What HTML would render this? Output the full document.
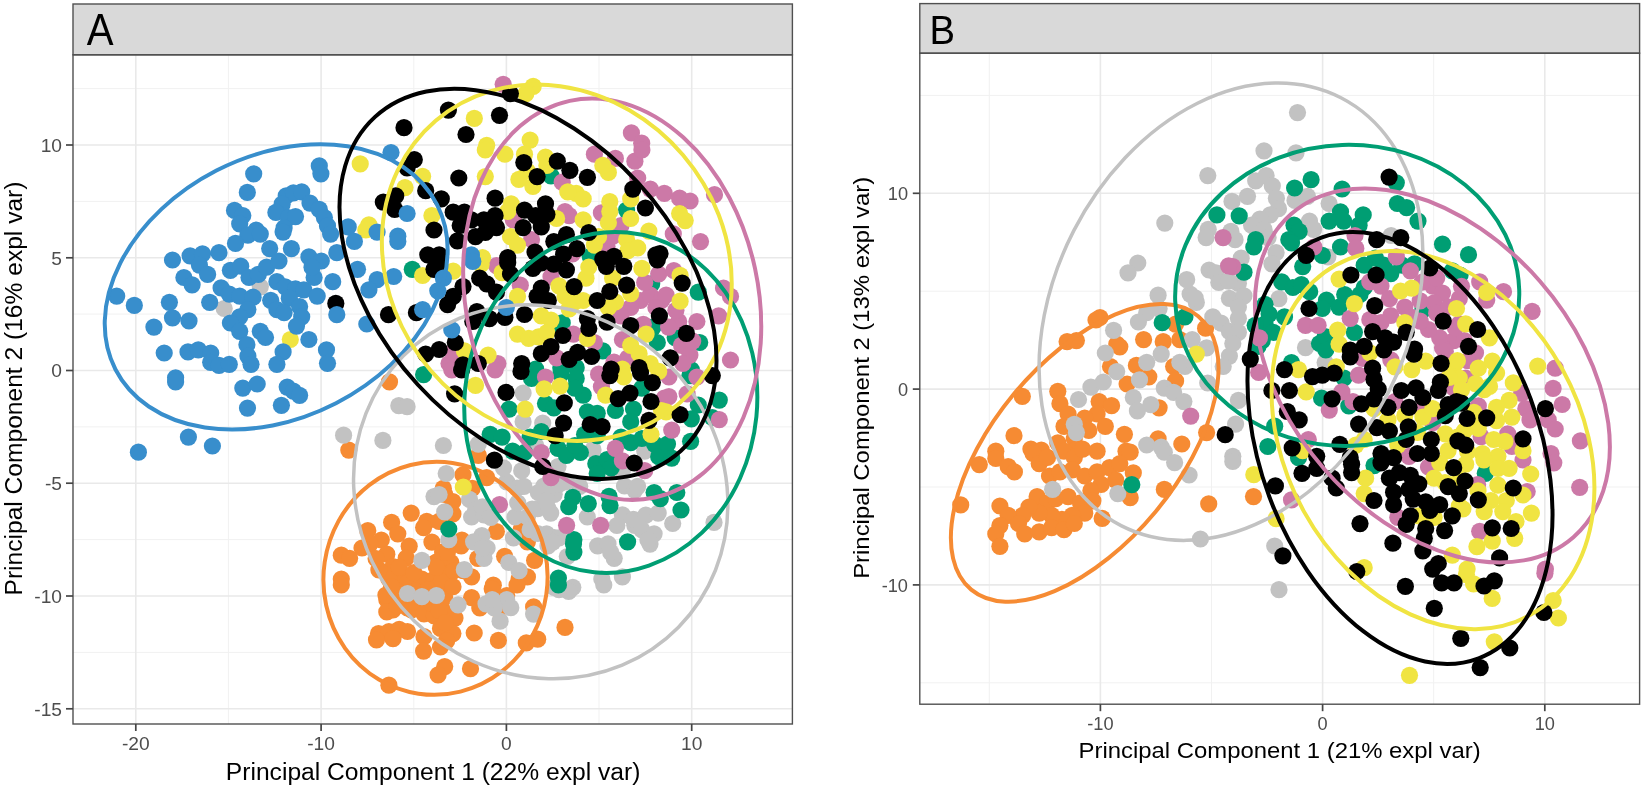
<!DOCTYPE html>
<html lang="en"><head><meta charset="utf-8"><title>PCA sample plots</title>
<style>html,body{margin:0;padding:0;background:#fff}body{width:1645px;height:787px;overflow:hidden}svg{display:block;filter:blur(0.5px)}text{font-family:"Liberation Sans",Arial,Helvetica,sans-serif}.tk{fill:#4d4d4d}.ti{fill:#000}.el{fill:none;stroke-width:4}.gM{stroke:#e9e9e9;stroke-width:1.6}.gm{stroke:#f1f1f1;stroke-width:1}.ax{stroke:#454545;stroke-width:1.7}
.d-blue{fill:#388ECC}.e-blue{stroke:#388ECC}
.d-orange{fill:#F68B33}.e-orange{stroke:#F68B33}
.d-grey{fill:#C2C2C2}.e-grey{stroke:#C2C2C2}
.d-green{fill:#009E73}.e-green{stroke:#009E73}
.d-pink{fill:#CC79A7}.e-pink{stroke:#CC79A7}
.d-yellow{fill:#F0E442}.e-yellow{stroke:#F0E442}
.d-black{fill:#000000}.e-black{stroke:#000000}
.e-grey{stroke-width:3.5}
</style></head><body>
<svg width="1645" height="787" viewBox="0 0 1645 787">
<rect width="1645" height="787" fill="#fff"/>
<g id="panelA">
<clipPath id="clipA"><rect x="73.0" y="54.8" width="719.4" height="669.2"/></clipPath>
<line class="gm" x1="228.4" x2="228.4" y1="54.8" y2="724.0"/><line class="gm" x1="413.8" x2="413.8" y1="54.8" y2="724.0"/><line class="gm" x1="599.0" x2="599.0" y1="54.8" y2="724.0"/><line class="gm" x1="73.0" x2="792.4" y1="652.4" y2="652.4"/><line class="gm" x1="73.0" x2="792.4" y1="539.6" y2="539.6"/><line class="gm" x1="73.0" x2="792.4" y1="426.9" y2="426.9"/><line class="gm" x1="73.0" x2="792.4" y1="314.1" y2="314.1"/><line class="gm" x1="73.0" x2="792.4" y1="201.4" y2="201.4"/><line class="gm" x1="73.0" x2="792.4" y1="88.6" y2="88.6"/><line class="gM" x1="135.8" x2="135.8" y1="54.8" y2="724.0"/><line class="gM" x1="321.1" x2="321.1" y1="54.8" y2="724.0"/><line class="gM" x1="506.4" x2="506.4" y1="54.8" y2="724.0"/><line class="gM" x1="691.7" x2="691.7" y1="54.8" y2="724.0"/><line class="gM" x1="73.0" x2="792.4" y1="708.8" y2="708.8"/><line class="gM" x1="73.0" x2="792.4" y1="596.0" y2="596.0"/><line class="gM" x1="73.0" x2="792.4" y1="483.2" y2="483.2"/><line class="gM" x1="73.0" x2="792.4" y1="370.5" y2="370.5"/><line class="gM" x1="73.0" x2="792.4" y1="257.8" y2="257.8"/><line class="gM" x1="73.0" x2="792.4" y1="145.0" y2="145.0"/>
<g clip-path="url(#clipA)">
<g class="d-orange"><circle cx="389.5" cy="381.9" r="8.6"/><circle cx="348.8" cy="450.1" r="8.6"/><circle cx="411.2" cy="513.1" r="8.6"/><circle cx="391.6" cy="522.4" r="8.6"/><circle cx="426.7" cy="521.4" r="8.6"/><circle cx="367.8" cy="530.7" r="8.6"/><circle cx="397.8" cy="533.8" r="8.6"/><circle cx="381.3" cy="540.0" r="8.6"/><circle cx="423.6" cy="527.6" r="8.6"/><circle cx="409.2" cy="546.2" r="8.6"/><circle cx="431.9" cy="542.1" r="8.6"/><circle cx="369.9" cy="544.1" r="8.6"/><circle cx="444.7" cy="494.3" r="8.6"/><circle cx="452.9" cy="501.5" r="8.6"/><circle cx="452.9" cy="513.9" r="8.6"/><circle cx="362.0" cy="548.0" r="8.6"/><circle cx="442.6" cy="552.1" r="8.6"/><circle cx="435.4" cy="562.5" r="8.6"/><circle cx="450.9" cy="562.5" r="8.6"/><circle cx="341.3" cy="555.2" r="8.6"/><circle cx="349.6" cy="558.3" r="8.6"/><circle cx="341.3" cy="579.0" r="8.6"/><circle cx="386.8" cy="554.2" r="8.6"/><circle cx="393.0" cy="566.6" r="8.6"/><circle cx="401.3" cy="574.9" r="8.6"/><circle cx="407.5" cy="583.1" r="8.6"/><circle cx="388.9" cy="579.0" r="8.6"/><circle cx="397.1" cy="591.4" r="8.6"/><circle cx="386.8" cy="599.7" r="8.6"/><circle cx="393.0" cy="610.0" r="8.6"/><circle cx="407.5" cy="607.9" r="8.6"/><circle cx="419.9" cy="599.7" r="8.6"/><circle cx="421.9" cy="579.0" r="8.6"/><circle cx="434.3" cy="579.0" r="8.6"/><circle cx="444.7" cy="574.9" r="8.6"/><circle cx="448.8" cy="587.3" r="8.6"/><circle cx="440.5" cy="599.7" r="8.6"/><circle cx="428.1" cy="612.1" r="8.6"/><circle cx="444.7" cy="612.1" r="8.6"/><circle cx="461.2" cy="545.9" r="8.6"/><circle cx="463.3" cy="570.7" r="8.6"/><circle cx="471.6" cy="576.9" r="8.6"/><circle cx="477.8" cy="558.3" r="8.6"/><circle cx="496.4" cy="531.5" r="8.6"/><circle cx="521.2" cy="529.4" r="8.6"/><circle cx="527.4" cy="541.8" r="8.6"/><circle cx="504.6" cy="556.3" r="8.6"/><circle cx="534.6" cy="560.4" r="8.6"/><circle cx="519.1" cy="579.0" r="8.6"/><circle cx="527.4" cy="576.9" r="8.6"/><circle cx="493.3" cy="585.2" r="8.6"/><circle cx="506.7" cy="595.5" r="8.6"/><circle cx="471.6" cy="597.6" r="8.6"/><circle cx="479.8" cy="607.9" r="8.6"/><circle cx="533.6" cy="606.9" r="8.6"/><circle cx="498.4" cy="610.0" r="8.6"/><circle cx="341.3" cy="585.0" r="8.6"/><circle cx="386.8" cy="611.9" r="8.6"/><circle cx="397.1" cy="605.7" r="8.6"/><circle cx="411.6" cy="609.8" r="8.6"/><circle cx="424.0" cy="613.9" r="8.6"/><circle cx="434.3" cy="616.0" r="8.6"/><circle cx="455.0" cy="618.1" r="8.6"/><circle cx="432.3" cy="603.6" r="8.6"/><circle cx="444.7" cy="597.4" r="8.6"/><circle cx="415.7" cy="591.2" r="8.6"/><circle cx="432.3" cy="589.1" r="8.6"/><circle cx="378.5" cy="633.6" r="8.6"/><circle cx="388.9" cy="631.5" r="8.6"/><circle cx="399.2" cy="629.4" r="8.6"/><circle cx="407.5" cy="631.5" r="8.6"/><circle cx="376.5" cy="639.8" r="8.6"/><circle cx="393.0" cy="638.7" r="8.6"/><circle cx="424.0" cy="636.7" r="8.6"/><circle cx="440.5" cy="628.4" r="8.6"/><circle cx="452.9" cy="633.6" r="8.6"/><circle cx="446.7" cy="640.8" r="8.6"/><circle cx="440.5" cy="647.0" r="8.6"/><circle cx="423.6" cy="651.1" r="8.6"/><circle cx="474.2" cy="633.0" r="8.6"/><circle cx="498.4" cy="640.4" r="8.6"/><circle cx="526.3" cy="642.9" r="8.6"/><circle cx="537.7" cy="639.2" r="8.6"/><circle cx="565.0" cy="627.4" r="8.6"/><circle cx="444.7" cy="666.6" r="8.6"/><circle cx="438.1" cy="674.9" r="8.6"/><circle cx="470.5" cy="668.7" r="8.6"/><circle cx="388.9" cy="685.2" r="8.6"/><circle cx="492.2" cy="589.1" r="8.6"/><circle cx="517.0" cy="585.0" r="8.6"/><circle cx="443.3" cy="488.3" r="8.6"/><circle cx="472.2" cy="488.3" r="8.6"/><circle cx="461.9" cy="540.0" r="8.6"/><circle cx="439.1" cy="521.4" r="8.6"/><circle cx="439.1" cy="560.7" r="8.6"/><circle cx="441.2" cy="581.3" r="8.6"/><circle cx="439.1" cy="610.3" r="8.6"/><circle cx="445.3" cy="622.7" r="8.6"/><circle cx="447.4" cy="552.4" r="8.6"/><circle cx="453.6" cy="571.0" r="8.6"/><circle cx="478.3" cy="455.3" r="8.6"/><circle cx="463.0" cy="474.9" r="8.6"/><circle cx="486.7" cy="477.7" r="8.6"/><circle cx="406.2" cy="558.0" r="8.6"/><circle cx="399.2" cy="567.1" r="8.6"/><circle cx="378.9" cy="569.9" r="8.6"/><circle cx="376.1" cy="558.7" r="8.6"/><circle cx="413.9" cy="572.7" r="8.6"/><circle cx="436.3" cy="567.1" r="8.6"/><circle cx="453.0" cy="586.7" r="8.6"/><circle cx="427.9" cy="589.5" r="8.6"/><circle cx="391.5" cy="586.7" r="8.6"/><circle cx="385.9" cy="595.1" r="8.6"/></g>
<g class="d-grey"><circle cx="260.3" cy="286.8" r="8.6"/><circle cx="224.2" cy="308.5" r="8.6"/><circle cx="398.8" cy="405.7" r="8.6"/><circle cx="407.1" cy="406.7" r="8.6"/><circle cx="343.6" cy="435.2" r="8.6"/><circle cx="382.9" cy="440.4" r="8.6"/><circle cx="434.0" cy="496.6" r="8.6"/><circle cx="444.7" cy="511.8" r="8.6"/><circle cx="469.5" cy="499.4" r="8.6"/><circle cx="475.7" cy="509.8" r="8.6"/><circle cx="471.6" cy="517.0" r="8.6"/><circle cx="484.0" cy="514.9" r="8.6"/><circle cx="506.7" cy="481.9" r="8.6"/><circle cx="517.0" cy="488.1" r="8.6"/><circle cx="543.9" cy="486.0" r="8.6"/><circle cx="554.2" cy="494.3" r="8.6"/><circle cx="537.7" cy="508.7" r="8.6"/><circle cx="527.4" cy="517.0" r="8.6"/><circle cx="548.0" cy="508.7" r="8.6"/><circle cx="515.0" cy="517.0" r="8.6"/><circle cx="481.9" cy="535.6" r="8.6"/><circle cx="473.6" cy="541.8" r="8.6"/><circle cx="487.1" cy="548.0" r="8.6"/><circle cx="484.0" cy="558.3" r="8.6"/><circle cx="448.8" cy="539.7" r="8.6"/><circle cx="421.9" cy="560.4" r="8.6"/><circle cx="464.3" cy="569.7" r="8.6"/><circle cx="508.8" cy="562.5" r="8.6"/><circle cx="519.1" cy="570.7" r="8.6"/><circle cx="407.5" cy="593.5" r="8.6"/><circle cx="421.9" cy="596.6" r="8.6"/><circle cx="436.4" cy="595.5" r="8.6"/><circle cx="458.1" cy="604.8" r="8.6"/><circle cx="486.0" cy="603.8" r="8.6"/><circle cx="506.7" cy="599.7" r="8.6"/><circle cx="494.3" cy="607.9" r="8.6"/><circle cx="533.6" cy="614.1" r="8.6"/><circle cx="537.7" cy="533.5" r="8.6"/><circle cx="554.2" cy="537.7" r="8.6"/><circle cx="548.0" cy="545.9" r="8.6"/><circle cx="554.2" cy="587.3" r="8.6"/><circle cx="572.8" cy="587.3" r="8.6"/><circle cx="568.7" cy="591.4" r="8.6"/><circle cx="597.6" cy="545.9" r="8.6"/><circle cx="608.0" cy="543.9" r="8.6"/><circle cx="614.2" cy="558.3" r="8.6"/><circle cx="601.8" cy="579.0" r="8.6"/><circle cx="622.4" cy="576.9" r="8.6"/><circle cx="624.5" cy="486.0" r="8.6"/><circle cx="634.8" cy="490.1" r="8.6"/><circle cx="587.3" cy="517.0" r="8.6"/><circle cx="622.4" cy="514.9" r="8.6"/><circle cx="634.8" cy="525.3" r="8.6"/><circle cx="566.6" cy="481.9" r="8.6"/><circle cx="492.2" cy="599.5" r="8.6"/><circle cx="510.8" cy="607.7" r="8.6"/><circle cx="500.1" cy="621.2" r="8.6"/><circle cx="603.8" cy="585.0" r="8.6"/><circle cx="523.9" cy="486.3" r="8.6"/><circle cx="538.3" cy="492.5" r="8.6"/><circle cx="550.7" cy="488.3" r="8.6"/><circle cx="546.6" cy="500.7" r="8.6"/><circle cx="559.0" cy="484.2" r="8.6"/><circle cx="579.7" cy="486.3" r="8.6"/><circle cx="637.6" cy="486.3" r="8.6"/><circle cx="482.5" cy="506.9" r="8.6"/><circle cx="490.8" cy="517.3" r="8.6"/><circle cx="517.7" cy="502.8" r="8.6"/><circle cx="532.1" cy="509.0" r="8.6"/><circle cx="550.7" cy="513.1" r="8.6"/><circle cx="439.1" cy="494.5" r="8.6"/><circle cx="633.4" cy="519.3" r="8.6"/><circle cx="645.8" cy="515.2" r="8.6"/><circle cx="658.2" cy="513.1" r="8.6"/><circle cx="672.7" cy="523.5" r="8.6"/><circle cx="641.7" cy="529.7" r="8.6"/><circle cx="654.1" cy="533.8" r="8.6"/><circle cx="616.9" cy="525.5" r="8.6"/><circle cx="714.0" cy="522.4" r="8.6"/><circle cx="530.1" cy="529.7" r="8.6"/><circle cx="546.6" cy="533.8" r="8.6"/><circle cx="559.0" cy="537.9" r="8.6"/><circle cx="513.5" cy="537.9" r="8.6"/><circle cx="650.0" cy="544.1" r="8.6"/><circle cx="552.8" cy="542.1" r="8.6"/><circle cx="610.7" cy="552.4" r="8.6"/><circle cx="559.0" cy="589.6" r="8.6"/><circle cx="647.9" cy="540.0" r="8.6"/><circle cx="567.3" cy="556.5" r="8.6"/><circle cx="482.5" cy="548.3" r="8.6"/><circle cx="523.1" cy="393.1" r="8.6"/><circle cx="523.1" cy="421.7" r="8.6"/><circle cx="542.7" cy="423.1" r="8.6"/><circle cx="443.4" cy="445.5" r="8.6"/><circle cx="478.3" cy="444.1" r="8.6"/><circle cx="446.2" cy="473.5" r="8.6"/><circle cx="503.5" cy="467.9" r="8.6"/><circle cx="521.7" cy="470.7" r="8.6"/><circle cx="558.0" cy="466.5" r="8.6"/><circle cx="593.0" cy="449.7" r="8.6"/><circle cx="644.7" cy="451.1" r="8.6"/><circle cx="622.4" cy="470.7" r="8.6"/><circle cx="535.7" cy="445.5" r="8.6"/></g>
<g class="d-green"><circle cx="412.3" cy="269.3" r="8.6"/><circle cx="423.6" cy="374.7" r="8.6"/><circle cx="448.8" cy="529.0" r="8.6"/><circle cx="572.8" cy="497.4" r="8.6"/><circle cx="588.3" cy="503.6" r="8.6"/><circle cx="609.0" cy="496.3" r="8.6"/><circle cx="610.0" cy="505.6" r="8.6"/><circle cx="568.7" cy="506.7" r="8.6"/><circle cx="573.9" cy="539.7" r="8.6"/><circle cx="573.9" cy="552.1" r="8.6"/><circle cx="627.6" cy="541.8" r="8.6"/><circle cx="558.4" cy="578.0" r="8.6"/><circle cx="558.4" cy="585.0" r="8.6"/><circle cx="654.1" cy="492.5" r="8.6"/><circle cx="660.3" cy="498.7" r="8.6"/><circle cx="676.8" cy="492.5" r="8.6"/><circle cx="681.0" cy="510.0" r="8.6"/><circle cx="573.5" cy="544.1" r="8.6"/><circle cx="551.0" cy="175.9" r="8.6"/><circle cx="626.6" cy="210.1" r="8.6"/><circle cx="590.2" cy="256.3" r="8.6"/><circle cx="651.7" cy="283.8" r="8.6"/><circle cx="562.2" cy="322.9" r="8.6"/><circle cx="602.8" cy="350.9" r="8.6"/><circle cx="657.3" cy="342.5" r="8.6"/><circle cx="653.1" cy="327.1" r="8.6"/><circle cx="560.8" cy="367.7" r="8.6"/><circle cx="576.2" cy="367.7" r="8.6"/><circle cx="535.7" cy="369.1" r="8.6"/><circle cx="556.6" cy="328.5" r="8.6"/><circle cx="698.3" cy="292.2" r="8.6"/><circle cx="699.7" cy="342.5" r="8.6"/><circle cx="675.2" cy="337.6" r="8.6"/><circle cx="691.3" cy="369.8" r="8.6"/><circle cx="531.5" cy="378.4" r="8.6"/><circle cx="560.8" cy="374.2" r="8.6"/><circle cx="576.2" cy="378.4" r="8.6"/><circle cx="583.2" cy="395.2" r="8.6"/><circle cx="574.8" cy="388.2" r="8.6"/><circle cx="509.1" cy="409.1" r="8.6"/><circle cx="545.5" cy="403.6" r="8.6"/><circle cx="553.8" cy="407.8" r="8.6"/><circle cx="587.4" cy="411.9" r="8.6"/><circle cx="597.2" cy="413.3" r="8.6"/><circle cx="615.4" cy="410.5" r="8.6"/><circle cx="633.5" cy="409.1" r="8.6"/><circle cx="630.7" cy="421.7" r="8.6"/><circle cx="641.9" cy="388.2" r="8.6"/><circle cx="490.2" cy="434.3" r="8.6"/><circle cx="502.1" cy="437.1" r="8.6"/><circle cx="512.6" cy="451.1" r="8.6"/><circle cx="524.5" cy="452.5" r="8.6"/><circle cx="530.1" cy="437.1" r="8.6"/><circle cx="541.3" cy="431.5" r="8.6"/><circle cx="558.0" cy="448.3" r="8.6"/><circle cx="566.4" cy="455.3" r="8.6"/><circle cx="580.4" cy="452.5" r="8.6"/><circle cx="584.6" cy="434.3" r="8.6"/><circle cx="597.2" cy="435.7" r="8.6"/><circle cx="630.7" cy="442.7" r="8.6"/><circle cx="641.9" cy="438.5" r="8.6"/><circle cx="654.5" cy="444.1" r="8.6"/><circle cx="658.7" cy="456.7" r="8.6"/><circle cx="595.8" cy="463.7" r="8.6"/><circle cx="607.0" cy="459.5" r="8.6"/><circle cx="611.2" cy="467.9" r="8.6"/><circle cx="597.2" cy="473.5" r="8.6"/><circle cx="574.8" cy="445.5" r="8.6"/><circle cx="621.0" cy="437.1" r="8.6"/><circle cx="689.9" cy="375.6" r="8.6"/><circle cx="719.3" cy="400.1" r="8.6"/><circle cx="698.3" cy="405.0" r="8.6"/><circle cx="691.3" cy="418.9" r="8.6"/><circle cx="712.3" cy="417.5" r="8.6"/><circle cx="690.6" cy="441.3" r="8.6"/><circle cx="667.5" cy="444.1" r="8.6"/><circle cx="671.7" cy="458.1" r="8.6"/></g>
<g class="d-pink"><circle cx="499.5" cy="504.6" r="8.6"/><circle cx="566.6" cy="525.3" r="8.6"/><circle cx="600.7" cy="525.3" r="8.6"/><circle cx="503.2" cy="84.3" r="8.6"/><circle cx="631.4" cy="132.9" r="8.6"/><circle cx="641.7" cy="143.2" r="8.6"/><circle cx="594.4" cy="154.2" r="8.6"/><circle cx="634.9" cy="161.2" r="8.6"/><circle cx="615.4" cy="158.4" r="8.6"/><circle cx="650.3" cy="189.1" r="8.6"/><circle cx="664.3" cy="193.3" r="8.6"/><circle cx="637.7" cy="178.0" r="8.6"/><circle cx="562.2" cy="182.2" r="8.6"/><circle cx="565.0" cy="211.5" r="8.6"/><circle cx="569.2" cy="215.7" r="8.6"/><circle cx="513.3" cy="219.9" r="8.6"/><circle cx="531.5" cy="239.5" r="8.6"/><circle cx="601.4" cy="212.9" r="8.6"/><circle cx="641.9" cy="150.0" r="8.6"/><circle cx="607.0" cy="246.5" r="8.6"/><circle cx="621.0" cy="225.5" r="8.6"/><circle cx="679.6" cy="198.2" r="8.6"/><circle cx="690.1" cy="201.0" r="8.6"/><circle cx="714.5" cy="194.7" r="8.6"/><circle cx="673.3" cy="233.9" r="8.6"/><circle cx="700.5" cy="241.6" r="8.6"/><circle cx="496.5" cy="265.6" r="8.6"/><circle cx="520.3" cy="285.2" r="8.6"/><circle cx="551.0" cy="276.8" r="8.6"/><circle cx="640.5" cy="300.5" r="8.6"/><circle cx="650.3" cy="295.0" r="8.6"/><circle cx="658.7" cy="274.0" r="8.6"/><circle cx="661.5" cy="300.5" r="8.6"/><circle cx="630.7" cy="307.5" r="8.6"/><circle cx="621.0" cy="315.9" r="8.6"/><circle cx="643.3" cy="324.3" r="8.6"/><circle cx="573.4" cy="334.1" r="8.6"/><circle cx="594.4" cy="342.5" r="8.6"/><circle cx="622.4" cy="339.7" r="8.6"/><circle cx="627.9" cy="357.9" r="8.6"/><circle cx="614.0" cy="362.1" r="8.6"/><circle cx="556.6" cy="357.9" r="8.6"/><circle cx="449.0" cy="363.5" r="8.6"/><circle cx="497.9" cy="363.5" r="8.6"/><circle cx="453.2" cy="352.3" r="8.6"/><circle cx="655.9" cy="307.5" r="8.6"/><circle cx="644.7" cy="282.4" r="8.6"/><circle cx="673.8" cy="270.5" r="8.6"/><circle cx="723.5" cy="288.0" r="8.6"/><circle cx="730.5" cy="296.4" r="8.6"/><circle cx="718.6" cy="315.9" r="8.6"/><circle cx="696.9" cy="321.5" r="8.6"/><circle cx="678.7" cy="321.5" r="8.6"/><circle cx="675.9" cy="310.3" r="8.6"/><circle cx="666.1" cy="295.0" r="8.6"/><circle cx="730.5" cy="360.0" r="8.6"/><circle cx="681.5" cy="345.3" r="8.6"/><circle cx="689.9" cy="355.1" r="8.6"/><circle cx="682.9" cy="363.5" r="8.6"/><circle cx="692.7" cy="341.1" r="8.6"/><circle cx="451.8" cy="370.0" r="8.6"/><circle cx="495.1" cy="370.0" r="8.6"/><circle cx="545.5" cy="377.0" r="8.6"/><circle cx="598.6" cy="374.2" r="8.6"/><circle cx="601.4" cy="386.8" r="8.6"/><circle cx="615.4" cy="448.3" r="8.6"/><circle cx="622.4" cy="460.9" r="8.6"/><circle cx="541.3" cy="452.5" r="8.6"/><circle cx="664.3" cy="398.0" r="8.6"/><circle cx="644.7" cy="470.7" r="8.6"/><circle cx="551.0" cy="477.7" r="8.6"/><circle cx="668.9" cy="396.6" r="8.6"/><circle cx="671.7" cy="430.1" r="8.6"/><circle cx="696.9" cy="377.0" r="8.6"/><circle cx="687.1" cy="393.8" r="8.6"/><circle cx="719.3" cy="419.6" r="8.6"/><circle cx="668.9" cy="377.0" r="8.6"/><circle cx="612.8" cy="236.2" r="8.6"/><circle cx="668.6" cy="327.1" r="8.6"/><circle cx="572.4" cy="253.8" r="8.6"/></g>
<g class="d-yellow"><circle cx="360.2" cy="163.9" r="8.6"/><circle cx="368.9" cy="224.8" r="8.6"/><circle cx="405.0" cy="187.6" r="8.6"/><circle cx="422.6" cy="176.3" r="8.6"/><circle cx="431.9" cy="215.5" r="8.6"/><circle cx="290.3" cy="339.5" r="8.6"/><circle cx="422.6" cy="275.5" r="8.6"/><circle cx="365.8" cy="230.0" r="8.6"/><circle cx="463.3" cy="487.0" r="8.6"/><circle cx="533.2" cy="86.4" r="8.6"/><circle cx="525.9" cy="93.6" r="8.6"/><circle cx="474.3" cy="118.4" r="8.6"/><circle cx="486.7" cy="145.3" r="8.6"/><circle cx="530.1" cy="140.1" r="8.6"/><circle cx="485.3" cy="150.0" r="8.6"/><circle cx="504.9" cy="154.2" r="8.6"/><circle cx="485.3" cy="176.6" r="8.6"/><circle cx="518.9" cy="179.4" r="8.6"/><circle cx="532.9" cy="186.4" r="8.6"/><circle cx="527.3" cy="171.0" r="8.6"/><circle cx="546.9" cy="165.4" r="8.6"/><circle cx="511.2" cy="203.8" r="8.6"/><circle cx="507.7" cy="211.5" r="8.6"/><circle cx="576.2" cy="193.3" r="8.6"/><circle cx="583.2" cy="198.9" r="8.6"/><circle cx="567.8" cy="191.9" r="8.6"/><circle cx="608.4" cy="172.4" r="8.6"/><circle cx="602.8" cy="165.4" r="8.6"/><circle cx="609.8" cy="201.7" r="8.6"/><circle cx="609.8" cy="211.5" r="8.6"/><circle cx="583.2" cy="219.9" r="8.6"/><circle cx="608.4" cy="222.7" r="8.6"/><circle cx="630.7" cy="198.9" r="8.6"/><circle cx="630.7" cy="218.5" r="8.6"/><circle cx="648.9" cy="231.1" r="8.6"/><circle cx="626.6" cy="239.5" r="8.6"/><circle cx="627.9" cy="250.7" r="8.6"/><circle cx="637.7" cy="247.9" r="8.6"/><circle cx="510.5" cy="236.7" r="8.6"/><circle cx="517.5" cy="245.1" r="8.6"/><circle cx="556.6" cy="218.5" r="8.6"/><circle cx="594.4" cy="245.1" r="8.6"/><circle cx="482.5" cy="257.7" r="8.6"/><circle cx="598.6" cy="236.7" r="8.6"/><circle cx="524.5" cy="154.2" r="8.6"/><circle cx="545.5" cy="157.0" r="8.6"/><circle cx="679.6" cy="213.6" r="8.6"/><circle cx="685.2" cy="220.6" r="8.6"/><circle cx="453.2" cy="271.2" r="8.6"/><circle cx="481.1" cy="264.2" r="8.6"/><circle cx="517.5" cy="296.4" r="8.6"/><circle cx="502.1" cy="272.6" r="8.6"/><circle cx="565.0" cy="296.4" r="8.6"/><circle cx="574.8" cy="301.9" r="8.6"/><circle cx="583.2" cy="300.5" r="8.6"/><circle cx="569.2" cy="308.9" r="8.6"/><circle cx="586.0" cy="278.2" r="8.6"/><circle cx="588.8" cy="267.0" r="8.6"/><circle cx="612.6" cy="278.2" r="8.6"/><circle cx="615.4" cy="301.9" r="8.6"/><circle cx="608.4" cy="307.5" r="8.6"/><circle cx="641.9" cy="268.4" r="8.6"/><circle cx="630.7" cy="293.6" r="8.6"/><circle cx="541.3" cy="315.9" r="8.6"/><circle cx="551.0" cy="320.1" r="8.6"/><circle cx="517.5" cy="334.1" r="8.6"/><circle cx="528.7" cy="338.3" r="8.6"/><circle cx="538.5" cy="336.9" r="8.6"/><circle cx="546.9" cy="332.7" r="8.6"/><circle cx="587.4" cy="338.3" r="8.6"/><circle cx="646.1" cy="334.1" r="8.6"/><circle cx="630.7" cy="345.3" r="8.6"/><circle cx="639.1" cy="353.7" r="8.6"/><circle cx="650.3" cy="363.5" r="8.6"/><circle cx="488.1" cy="355.1" r="8.6"/><circle cx="464.4" cy="350.9" r="8.6"/><circle cx="622.4" cy="369.1" r="8.6"/><circle cx="680.1" cy="275.4" r="8.6"/><circle cx="680.1" cy="301.2" r="8.6"/><circle cx="475.5" cy="385.4" r="8.6"/><circle cx="544.1" cy="388.9" r="8.6"/><circle cx="560.1" cy="386.1" r="8.6"/><circle cx="525.2" cy="409.1" r="8.6"/><circle cx="605.6" cy="395.2" r="8.6"/><circle cx="623.8" cy="377.0" r="8.6"/><circle cx="651.0" cy="434.3" r="8.6"/><circle cx="658.7" cy="371.4" r="8.6"/><circle cx="661.5" cy="410.5" r="8.6"/><circle cx="666.1" cy="411.9" r="8.6"/><circle cx="559.0" cy="285.8" r="8.6"/></g>
<g class="d-black"><circle cx="404.0" cy="127.7" r="8.6"/><circle cx="414.3" cy="159.7" r="8.6"/><circle cx="407.1" cy="168.0" r="8.6"/><circle cx="425.7" cy="190.7" r="8.6"/><circle cx="395.7" cy="195.9" r="8.6"/><circle cx="383.3" cy="202.1" r="8.6"/><circle cx="394.7" cy="209.3" r="8.6"/><circle cx="434.0" cy="230.0" r="8.6"/><circle cx="335.8" cy="303.4" r="8.6"/><circle cx="388.5" cy="314.7" r="8.6"/><circle cx="416.4" cy="312.7" r="8.6"/><circle cx="427.8" cy="254.8" r="8.6"/><circle cx="434.0" cy="269.3" r="8.6"/><circle cx="425.7" cy="354.0" r="8.6"/><circle cx="510.4" cy="93.6" r="8.6"/><circle cx="448.4" cy="110.1" r="8.6"/><circle cx="499.5" cy="115.3" r="8.6"/><circle cx="466.0" cy="134.5" r="8.6"/><circle cx="458.8" cy="178.0" r="8.6"/><circle cx="523.8" cy="162.6" r="8.6"/><circle cx="557.3" cy="161.2" r="8.6"/><circle cx="569.9" cy="170.3" r="8.6"/><circle cx="587.4" cy="177.3" r="8.6"/><circle cx="537.1" cy="176.6" r="8.6"/><circle cx="441.3" cy="198.9" r="8.6"/><circle cx="495.1" cy="198.2" r="8.6"/><circle cx="545.5" cy="203.8" r="8.6"/><circle cx="524.5" cy="210.1" r="8.6"/><circle cx="535.7" cy="215.7" r="8.6"/><circle cx="546.9" cy="214.3" r="8.6"/><circle cx="495.1" cy="215.7" r="8.6"/><circle cx="483.9" cy="219.9" r="8.6"/><circle cx="523.1" cy="227.6" r="8.6"/><circle cx="541.3" cy="226.9" r="8.6"/><circle cx="496.5" cy="227.6" r="8.6"/><circle cx="453.2" cy="212.2" r="8.6"/><circle cx="464.4" cy="212.2" r="8.6"/><circle cx="471.4" cy="219.9" r="8.6"/><circle cx="460.2" cy="225.5" r="8.6"/><circle cx="475.5" cy="236.7" r="8.6"/><circle cx="457.4" cy="240.9" r="8.6"/><circle cx="566.4" cy="234.6" r="8.6"/><circle cx="588.8" cy="232.5" r="8.6"/><circle cx="553.8" cy="241.6" r="8.6"/><circle cx="576.9" cy="248.6" r="8.6"/><circle cx="535.0" cy="252.1" r="8.6"/><circle cx="563.6" cy="254.2" r="8.6"/><circle cx="507.7" cy="257.7" r="8.6"/><circle cx="632.8" cy="189.1" r="8.6"/><circle cx="645.4" cy="208.0" r="8.6"/><circle cx="614.0" cy="256.3" r="8.6"/><circle cx="655.9" cy="254.9" r="8.6"/><circle cx="439.2" cy="254.9" r="8.6"/><circle cx="602.8" cy="259.1" r="8.6"/><circle cx="485.3" cy="232.5" r="8.6"/><circle cx="660.0" cy="253.5" r="8.6"/><circle cx="439.2" cy="262.8" r="8.6"/><circle cx="463.0" cy="286.6" r="8.6"/><circle cx="453.2" cy="296.4" r="8.6"/><circle cx="447.6" cy="304.7" r="8.6"/><circle cx="479.7" cy="278.2" r="8.6"/><circle cx="486.7" cy="283.8" r="8.6"/><circle cx="496.5" cy="292.2" r="8.6"/><circle cx="476.9" cy="311.7" r="8.6"/><circle cx="472.8" cy="321.5" r="8.6"/><circle cx="489.5" cy="318.7" r="8.6"/><circle cx="507.7" cy="262.8" r="8.6"/><circle cx="510.5" cy="274.0" r="8.6"/><circle cx="532.9" cy="268.4" r="8.6"/><circle cx="541.3" cy="262.8" r="8.6"/><circle cx="553.8" cy="264.2" r="8.6"/><circle cx="566.4" cy="269.8" r="8.6"/><circle cx="541.3" cy="288.0" r="8.6"/><circle cx="537.1" cy="296.4" r="8.6"/><circle cx="548.3" cy="300.5" r="8.6"/><circle cx="574.1" cy="286.6" r="8.6"/><circle cx="597.2" cy="300.5" r="8.6"/><circle cx="609.8" cy="291.5" r="8.6"/><circle cx="626.6" cy="285.2" r="8.6"/><circle cx="606.3" cy="266.3" r="8.6"/><circle cx="623.8" cy="266.3" r="8.6"/><circle cx="657.3" cy="260.0" r="8.6"/><circle cx="504.9" cy="317.3" r="8.6"/><circle cx="524.5" cy="314.5" r="8.6"/><circle cx="587.4" cy="318.7" r="8.6"/><circle cx="588.8" cy="328.5" r="8.6"/><circle cx="607.0" cy="322.2" r="8.6"/><circle cx="630.7" cy="325.7" r="8.6"/><circle cx="659.4" cy="315.9" r="8.6"/><circle cx="562.9" cy="335.5" r="8.6"/><circle cx="551.0" cy="346.7" r="8.6"/><circle cx="541.3" cy="353.7" r="8.6"/><circle cx="577.6" cy="352.3" r="8.6"/><circle cx="569.2" cy="359.3" r="8.6"/><circle cx="591.6" cy="356.5" r="8.6"/><circle cx="455.3" cy="342.5" r="8.6"/><circle cx="439.2" cy="349.5" r="8.6"/><circle cx="521.7" cy="363.5" r="8.6"/><circle cx="463.0" cy="364.9" r="8.6"/><circle cx="478.3" cy="363.5" r="8.6"/><circle cx="639.1" cy="367.7" r="8.6"/><circle cx="611.2" cy="369.1" r="8.6"/><circle cx="682.2" cy="283.1" r="8.6"/><circle cx="686.4" cy="333.4" r="8.6"/><circle cx="670.3" cy="357.9" r="8.6"/><circle cx="454.6" cy="393.8" r="8.6"/><circle cx="506.0" cy="392.4" r="8.6"/><circle cx="521.0" cy="371.4" r="8.6"/><circle cx="564.3" cy="402.9" r="8.6"/><circle cx="563.6" cy="423.1" r="8.6"/><circle cx="555.2" cy="435.7" r="8.6"/><circle cx="590.2" cy="424.5" r="8.6"/><circle cx="602.1" cy="426.6" r="8.6"/><circle cx="609.8" cy="375.6" r="8.6"/><circle cx="618.2" cy="398.7" r="8.6"/><circle cx="630.0" cy="393.1" r="8.6"/><circle cx="640.5" cy="372.8" r="8.6"/><circle cx="652.4" cy="382.6" r="8.6"/><circle cx="651.0" cy="401.5" r="8.6"/><circle cx="648.9" cy="420.3" r="8.6"/><circle cx="494.4" cy="460.2" r="8.6"/><circle cx="542.7" cy="466.5" r="8.6"/><circle cx="634.2" cy="463.0" r="8.6"/><circle cx="461.6" cy="370.0" r="8.6"/><circle cx="712.3" cy="375.6" r="8.6"/><circle cx="680.1" cy="414.7" r="8.6"/></g>
<g class="d-blue"><circle cx="253.7" cy="173.8" r="8.6"/><circle cx="247.3" cy="192.4" r="8.6"/><circle cx="319.3" cy="165.9" r="8.6"/><circle cx="320.9" cy="173.8" r="8.6"/><circle cx="391.0" cy="152.5" r="8.6"/><circle cx="234.5" cy="210.4" r="8.6"/><circle cx="242.8" cy="215.5" r="8.6"/><circle cx="239.7" cy="223.8" r="8.6"/><circle cx="256.2" cy="230.0" r="8.6"/><circle cx="247.9" cy="235.2" r="8.6"/><circle cx="286.2" cy="195.9" r="8.6"/><circle cx="293.4" cy="192.8" r="8.6"/><circle cx="301.7" cy="191.8" r="8.6"/><circle cx="282.1" cy="204.2" r="8.6"/><circle cx="275.9" cy="212.4" r="8.6"/><circle cx="288.3" cy="217.6" r="8.6"/><circle cx="295.5" cy="216.6" r="8.6"/><circle cx="284.1" cy="227.9" r="8.6"/><circle cx="310.0" cy="203.1" r="8.6"/><circle cx="319.3" cy="209.3" r="8.6"/><circle cx="324.4" cy="217.6" r="8.6"/><circle cx="327.5" cy="225.9" r="8.6"/><circle cx="348.2" cy="226.9" r="8.6"/><circle cx="330.6" cy="234.1" r="8.6"/><circle cx="407.1" cy="213.5" r="8.6"/><circle cx="377.1" cy="232.1" r="8.6"/><circle cx="397.8" cy="236.2" r="8.6"/><circle cx="260.3" cy="234.1" r="8.6"/><circle cx="235.5" cy="243.4" r="8.6"/><circle cx="283.1" cy="232.1" r="8.6"/><circle cx="291.4" cy="248.6" r="8.6"/><circle cx="269.7" cy="248.6" r="8.6"/><circle cx="354.4" cy="241.4" r="8.6"/><circle cx="397.8" cy="241.4" r="8.6"/><circle cx="336.8" cy="252.7" r="8.6"/><circle cx="308.9" cy="256.9" r="8.6"/><circle cx="321.3" cy="261.0" r="8.6"/><circle cx="172.5" cy="260.0" r="8.6"/><circle cx="190.1" cy="255.8" r="8.6"/><circle cx="202.5" cy="253.8" r="8.6"/><circle cx="219.0" cy="252.7" r="8.6"/><circle cx="199.4" cy="265.1" r="8.6"/><circle cx="207.6" cy="274.4" r="8.6"/><circle cx="183.9" cy="277.5" r="8.6"/><circle cx="192.1" cy="284.8" r="8.6"/><circle cx="230.4" cy="270.3" r="8.6"/><circle cx="240.7" cy="266.2" r="8.6"/><circle cx="249.0" cy="277.5" r="8.6"/><circle cx="258.3" cy="274.4" r="8.6"/><circle cx="266.6" cy="267.2" r="8.6"/><circle cx="279.0" cy="261.0" r="8.6"/><circle cx="221.1" cy="287.9" r="8.6"/><circle cx="229.3" cy="294.1" r="8.6"/><circle cx="239.7" cy="296.1" r="8.6"/><circle cx="253.1" cy="297.2" r="8.6"/><circle cx="276.9" cy="281.7" r="8.6"/><circle cx="285.2" cy="286.8" r="8.6"/><circle cx="295.5" cy="288.9" r="8.6"/><circle cx="303.8" cy="289.9" r="8.6"/><circle cx="314.1" cy="277.5" r="8.6"/><circle cx="312.0" cy="267.2" r="8.6"/><circle cx="317.2" cy="296.1" r="8.6"/><circle cx="289.3" cy="298.2" r="8.6"/><circle cx="270.7" cy="300.3" r="8.6"/><circle cx="276.9" cy="309.6" r="8.6"/><circle cx="284.1" cy="312.7" r="8.6"/><circle cx="299.6" cy="306.5" r="8.6"/><circle cx="301.7" cy="316.8" r="8.6"/><circle cx="296.5" cy="326.1" r="8.6"/><circle cx="332.7" cy="281.7" r="8.6"/><circle cx="357.5" cy="269.3" r="8.6"/><circle cx="377.1" cy="279.6" r="8.6"/><circle cx="393.7" cy="276.5" r="8.6"/><circle cx="368.9" cy="289.9" r="8.6"/><circle cx="116.7" cy="296.1" r="8.6"/><circle cx="134.3" cy="305.4" r="8.6"/><circle cx="169.4" cy="302.3" r="8.6"/><circle cx="172.5" cy="317.8" r="8.6"/><circle cx="189.0" cy="320.9" r="8.6"/><circle cx="153.9" cy="327.1" r="8.6"/><circle cx="209.7" cy="302.3" r="8.6"/><circle cx="247.9" cy="309.6" r="8.6"/><circle cx="239.7" cy="316.8" r="8.6"/><circle cx="230.4" cy="323.0" r="8.6"/><circle cx="239.7" cy="331.3" r="8.6"/><circle cx="260.3" cy="331.3" r="8.6"/><circle cx="265.5" cy="337.5" r="8.6"/><circle cx="246.9" cy="344.7" r="8.6"/><circle cx="247.9" cy="356.1" r="8.6"/><circle cx="251.0" cy="364.3" r="8.6"/><circle cx="336.8" cy="314.7" r="8.6"/><circle cx="366.8" cy="324.0" r="8.6"/><circle cx="422.6" cy="309.6" r="8.6"/><circle cx="308.9" cy="339.5" r="8.6"/><circle cx="326.5" cy="349.9" r="8.6"/><circle cx="327.5" cy="363.3" r="8.6"/><circle cx="283.1" cy="351.9" r="8.6"/><circle cx="276.9" cy="364.3" r="8.6"/><circle cx="164.2" cy="353.0" r="8.6"/><circle cx="188.0" cy="351.9" r="8.6"/><circle cx="198.3" cy="349.9" r="8.6"/><circle cx="210.7" cy="353.0" r="8.6"/><circle cx="210.7" cy="362.3" r="8.6"/><circle cx="219.0" cy="365.4" r="8.6"/><circle cx="229.3" cy="364.3" r="8.6"/><circle cx="175.6" cy="377.8" r="8.6"/><circle cx="242.8" cy="388.1" r="8.6"/><circle cx="257.2" cy="384.0" r="8.6"/><circle cx="287.2" cy="387.1" r="8.6"/><circle cx="293.4" cy="391.2" r="8.6"/><circle cx="175.6" cy="381.9" r="8.6"/><circle cx="299.6" cy="395.3" r="8.6"/><circle cx="247.5" cy="408.1" r="8.6"/><circle cx="281.4" cy="405.3" r="8.6"/><circle cx="188.4" cy="437.1" r="8.6"/><circle cx="212.4" cy="446.0" r="8.6"/><circle cx="138.4" cy="452.2" r="8.6"/><circle cx="471.4" cy="254.9" r="8.6"/><circle cx="443.4" cy="278.2" r="8.6"/><circle cx="437.8" cy="290.8" r="8.6"/><circle cx="506.3" cy="307.5" r="8.6"/><circle cx="451.8" cy="329.9" r="8.6"/><circle cx="472.8" cy="261.4" r="8.6"/></g>
<ellipse class="el e-blue" cx="276.2" cy="286.9" rx="180.7" ry="130.8" transform="rotate(-27.2 276.2 286.9)"/>
<ellipse class="el e-orange" cx="435.5" cy="578.3" rx="116.6" ry="112.0" transform="rotate(-81.6 435.5 578.3)"/>
<ellipse class="el e-grey" cx="540.7" cy="491.8" rx="193.2" ry="180.7" transform="rotate(-135.5 540.7 491.8)"/>
<ellipse class="el e-green" cx="610.8" cy="402.4" rx="170.7" ry="146.3" transform="rotate(-84.4 610.8 402.4)"/>
<ellipse class="el e-pink" cx="612.2" cy="299.2" rx="202.8" ry="146.1" transform="rotate(77.9 612.2 299.2)"/>
<ellipse class="el e-yellow" cx="556.8" cy="262.7" rx="186.6" ry="165.9" transform="rotate(49.5 556.8 262.7)"/>
<ellipse class="el e-black" cx="528.0" cy="283.8" rx="226.4" ry="149.4" transform="rotate(47.5 528.0 283.8)"/>
</g>
<rect x="73.0" y="4.0" width="719.4" height="50.8" fill="#d9d9d9" stroke="#505050" stroke-width="1.4"/>
<text class="ti" x="86.7" y="44.7" font-size="43.5" textLength="26.8" lengthAdjust="spacingAndGlyphs">A</text>
<rect x="73.0" y="54.8" width="719.4" height="669.2" fill="none" stroke="#505050" stroke-width="1.4"/>
<line class="ax" x1="135.8" x2="135.8" y1="724.0" y2="731.0"/><text class="tk" x="135.8" y="750.3" font-size="19.2" text-anchor="middle">-20</text><line class="ax" x1="321.1" x2="321.1" y1="724.0" y2="731.0"/><text class="tk" x="321.1" y="750.3" font-size="19.2" text-anchor="middle">-10</text><line class="ax" x1="506.4" x2="506.4" y1="724.0" y2="731.0"/><text class="tk" x="506.4" y="750.3" font-size="19.2" text-anchor="middle">0</text><line class="ax" x1="691.7" x2="691.7" y1="724.0" y2="731.0"/><text class="tk" x="691.7" y="750.3" font-size="19.2" text-anchor="middle">10</text><line class="ax" x1="66.0" x2="73.0" y1="708.8" y2="708.8"/><text class="tk" x="62.0" y="715.7" font-size="19.2" text-anchor="end">-15</text><line class="ax" x1="66.0" x2="73.0" y1="596.0" y2="596.0"/><text class="tk" x="62.0" y="602.9" font-size="19.2" text-anchor="end">-10</text><line class="ax" x1="66.0" x2="73.0" y1="483.2" y2="483.2"/><text class="tk" x="62.0" y="490.2" font-size="19.2" text-anchor="end">-5</text><line class="ax" x1="66.0" x2="73.0" y1="370.5" y2="370.5"/><text class="tk" x="62.0" y="377.4" font-size="19.2" text-anchor="end">0</text><line class="ax" x1="66.0" x2="73.0" y1="257.8" y2="257.8"/><text class="tk" x="62.0" y="264.7" font-size="19.2" text-anchor="end">5</text><line class="ax" x1="66.0" x2="73.0" y1="145.0" y2="145.0"/><text class="tk" x="62.0" y="151.9" font-size="19.2" text-anchor="end">10</text>
<text class="ti" x="433.1" y="780.0" font-size="23.0" text-anchor="middle" textLength="414.5" lengthAdjust="spacingAndGlyphs">Principal Component 1 (22% expl var)</text>
<text class="ti" x="22.0" y="388.5" font-size="23.0" text-anchor="middle" textLength="414.0" lengthAdjust="spacingAndGlyphs" transform="rotate(-90 22.0 388.5)">Principal Component 2 (16% expl var)</text>
</g>
<g id="panelB">
<clipPath id="clipB"><rect x="919.8" y="53.2" width="719.8" height="651.0"/></clipPath>
<line class="gm" x1="989.3" x2="989.3" y1="53.2" y2="704.2"/><line class="gm" x1="1211.5" x2="1211.5" y1="53.2" y2="704.2"/><line class="gm" x1="1433.7" x2="1433.7" y1="53.2" y2="704.2"/><line class="gm" x1="919.8" x2="1639.6" y1="682.8" y2="682.8"/><line class="gm" x1="919.8" x2="1639.6" y1="487.0" y2="487.0"/><line class="gm" x1="919.8" x2="1639.6" y1="291.2" y2="291.2"/><line class="gm" x1="919.8" x2="1639.6" y1="95.4" y2="95.4"/><line class="gM" x1="1100.4" x2="1100.4" y1="53.2" y2="704.2"/><line class="gM" x1="1322.6" x2="1322.6" y1="53.2" y2="704.2"/><line class="gM" x1="1544.8" x2="1544.8" y1="53.2" y2="704.2"/><line class="gM" x1="919.8" x2="1639.6" y1="584.9" y2="584.9"/><line class="gM" x1="919.8" x2="1639.6" y1="389.1" y2="389.1"/><line class="gM" x1="919.8" x2="1639.6" y1="193.3" y2="193.3"/>
<g clip-path="url(#clipB)">
<g class="d-orange"><circle cx="1096.0" cy="320.0" r="8.6"/><circle cx="1067.1" cy="341.7" r="8.6"/><circle cx="1076.4" cy="340.6" r="8.6"/><circle cx="1119.8" cy="346.8" r="8.6"/><circle cx="1143.6" cy="339.6" r="8.6"/><circle cx="1163.2" cy="341.7" r="8.6"/><circle cx="1179.8" cy="339.6" r="8.6"/><circle cx="1175.6" cy="324.1" r="8.6"/><circle cx="1205.6" cy="328.2" r="8.6"/><circle cx="1110.5" cy="366.5" r="8.6"/><circle cx="1136.4" cy="365.4" r="8.6"/><circle cx="1173.6" cy="366.5" r="8.6"/><circle cx="1175.6" cy="380.9" r="8.6"/><circle cx="1127.1" cy="384.0" r="8.6"/><circle cx="1148.8" cy="376.8" r="8.6"/><circle cx="1057.8" cy="391.3" r="8.6"/><circle cx="1022.3" cy="396.4" r="8.6"/><circle cx="1059.9" cy="403.7" r="8.6"/><circle cx="1068.1" cy="414.0" r="8.6"/><circle cx="1099.1" cy="401.6" r="8.6"/><circle cx="1111.6" cy="405.7" r="8.6"/><circle cx="1097.1" cy="414.0" r="8.6"/><circle cx="1084.7" cy="418.1" r="8.6"/><circle cx="1105.3" cy="426.4" r="8.6"/><circle cx="1064.0" cy="426.4" r="8.6"/><circle cx="1088.8" cy="430.5" r="8.6"/><circle cx="1074.3" cy="438.8" r="8.6"/><circle cx="1014.0" cy="435.7" r="8.6"/><circle cx="1124.4" cy="434.3" r="8.6"/><circle cx="1158.1" cy="438.8" r="8.6"/><circle cx="1206.6" cy="432.6" r="8.6"/><circle cx="1181.8" cy="444.0" r="8.6"/><circle cx="1057.8" cy="442.9" r="8.6"/><circle cx="1030.9" cy="449.1" r="8.6"/><circle cx="1041.3" cy="450.2" r="8.6"/><circle cx="1076.4" cy="449.1" r="8.6"/><circle cx="1097.1" cy="451.2" r="8.6"/><circle cx="1126.0" cy="451.2" r="8.6"/><circle cx="1159.1" cy="407.8" r="8.6"/><circle cx="995.8" cy="451.2" r="8.6"/><circle cx="979.3" cy="464.6" r="8.6"/><circle cx="995.8" cy="458.4" r="8.6"/><circle cx="1008.2" cy="466.7" r="8.6"/><circle cx="1014.4" cy="471.9" r="8.6"/><circle cx="960.7" cy="504.9" r="8.6"/><circle cx="1033.0" cy="453.3" r="8.6"/><circle cx="1039.2" cy="463.6" r="8.6"/><circle cx="1047.5" cy="457.4" r="8.6"/><circle cx="1064.0" cy="451.2" r="8.6"/><circle cx="1074.3" cy="457.4" r="8.6"/><circle cx="1082.6" cy="449.1" r="8.6"/><circle cx="1130.2" cy="452.2" r="8.6"/><circle cx="1049.5" cy="476.0" r="8.6"/><circle cx="1059.9" cy="471.9" r="8.6"/><circle cx="1072.3" cy="469.8" r="8.6"/><circle cx="1084.7" cy="476.0" r="8.6"/><circle cx="1097.1" cy="471.9" r="8.6"/><circle cx="1109.5" cy="467.7" r="8.6"/><circle cx="1119.8" cy="463.6" r="8.6"/><circle cx="1133.3" cy="472.9" r="8.6"/><circle cx="1101.2" cy="484.3" r="8.6"/><circle cx="1090.9" cy="490.5" r="8.6"/><circle cx="1115.7" cy="480.1" r="8.6"/><circle cx="1037.1" cy="496.7" r="8.6"/><circle cx="1047.5" cy="502.9" r="8.6"/><circle cx="1055.7" cy="498.7" r="8.6"/><circle cx="1068.1" cy="496.7" r="8.6"/><circle cx="1080.5" cy="502.9" r="8.6"/><circle cx="1092.9" cy="500.8" r="8.6"/><circle cx="1084.7" cy="513.2" r="8.6"/><circle cx="1072.3" cy="515.3" r="8.6"/><circle cx="1061.9" cy="519.4" r="8.6"/><circle cx="1051.6" cy="515.3" r="8.6"/><circle cx="1039.2" cy="513.2" r="8.6"/><circle cx="1028.9" cy="507.0" r="8.6"/><circle cx="1022.7" cy="515.3" r="8.6"/><circle cx="999.9" cy="506.0" r="8.6"/><circle cx="1008.2" cy="515.3" r="8.6"/><circle cx="1018.5" cy="523.5" r="8.6"/><circle cx="999.9" cy="525.6" r="8.6"/><circle cx="995.8" cy="533.9" r="8.6"/><circle cx="999.9" cy="546.3" r="8.6"/><circle cx="1024.7" cy="533.9" r="8.6"/><circle cx="1039.2" cy="531.8" r="8.6"/><circle cx="1051.6" cy="527.7" r="8.6"/><circle cx="1064.0" cy="529.7" r="8.6"/><circle cx="1074.3" cy="523.5" r="8.6"/><circle cx="1102.2" cy="518.4" r="8.6"/><circle cx="1130.2" cy="497.7" r="8.6"/><circle cx="1164.3" cy="489.4" r="8.6"/><circle cx="1208.7" cy="503.9" r="8.6"/><circle cx="1253.5" cy="496.6" r="8.6"/><circle cx="1116.8" cy="344.1" r="8.6"/><circle cx="1100.0" cy="317.5" r="8.6"/></g>
<g class="d-grey"><circle cx="1158.1" cy="295.2" r="8.6"/><circle cx="1190.1" cy="294.1" r="8.6"/><circle cx="1196.3" cy="302.4" r="8.6"/><circle cx="1146.7" cy="312.7" r="8.6"/><circle cx="1138.4" cy="322.0" r="8.6"/><circle cx="1159.1" cy="308.6" r="8.6"/><circle cx="1113.6" cy="330.3" r="8.6"/><circle cx="1105.3" cy="353.0" r="8.6"/><circle cx="1116.7" cy="371.6" r="8.6"/><circle cx="1146.7" cy="362.3" r="8.6"/><circle cx="1161.2" cy="354.1" r="8.6"/><circle cx="1139.5" cy="379.9" r="8.6"/><circle cx="1184.9" cy="366.5" r="8.6"/><circle cx="1179.8" cy="362.3" r="8.6"/><circle cx="1090.9" cy="387.1" r="8.6"/><circle cx="1103.3" cy="382.0" r="8.6"/><circle cx="1078.5" cy="399.5" r="8.6"/><circle cx="1133.3" cy="397.5" r="8.6"/><circle cx="1137.4" cy="410.9" r="8.6"/><circle cx="1150.8" cy="404.7" r="8.6"/><circle cx="1164.3" cy="388.2" r="8.6"/><circle cx="1173.6" cy="392.3" r="8.6"/><circle cx="1183.9" cy="401.6" r="8.6"/><circle cx="1207.7" cy="383.0" r="8.6"/><circle cx="1074.3" cy="424.3" r="8.6"/><circle cx="1076.4" cy="432.6" r="8.6"/><circle cx="1146.7" cy="445.0" r="8.6"/><circle cx="1161.2" cy="447.1" r="8.6"/><circle cx="1229.4" cy="298.3" r="8.6"/><circle cx="1212.8" cy="316.9" r="8.6"/><circle cx="1221.1" cy="323.1" r="8.6"/><circle cx="1229.4" cy="331.3" r="8.6"/><circle cx="1206.6" cy="347.9" r="8.6"/><circle cx="1192.2" cy="339.6" r="8.6"/><circle cx="1229.4" cy="356.1" r="8.6"/><circle cx="1223.2" cy="366.5" r="8.6"/><circle cx="1052.6" cy="489.4" r="8.6"/><circle cx="1117.8" cy="493.6" r="8.6"/><circle cx="1164.3" cy="452.2" r="8.6"/><circle cx="1174.6" cy="462.6" r="8.6"/><circle cx="1189.1" cy="475.0" r="8.6"/><circle cx="1200.4" cy="539.0" r="8.6"/><circle cx="1279.0" cy="589.7" r="8.6"/><circle cx="1297.5" cy="112.6" r="8.6"/><circle cx="1264.0" cy="150.8" r="8.6"/><circle cx="1296.0" cy="152.9" r="8.6"/><circle cx="1207.8" cy="175.6" r="8.6"/><circle cx="1164.8" cy="223.1" r="8.6"/><circle cx="1255.7" cy="180.8" r="8.6"/><circle cx="1266.1" cy="175.6" r="8.6"/><circle cx="1272.3" cy="185.9" r="8.6"/><circle cx="1247.5" cy="196.3" r="8.6"/><circle cx="1276.4" cy="198.3" r="8.6"/><circle cx="1278.5" cy="208.7" r="8.6"/><circle cx="1270.2" cy="214.9" r="8.6"/><circle cx="1259.9" cy="219.0" r="8.6"/><circle cx="1251.6" cy="225.2" r="8.6"/><circle cx="1232.0" cy="201.4" r="8.6"/><circle cx="1264.0" cy="229.3" r="8.6"/><circle cx="1268.1" cy="237.6" r="8.6"/><circle cx="1208.2" cy="229.3" r="8.6"/><circle cx="1206.1" cy="237.6" r="8.6"/><circle cx="1230.9" cy="231.4" r="8.6"/><circle cx="1235.1" cy="239.7" r="8.6"/><circle cx="1295.0" cy="200.4" r="8.6"/><circle cx="1307.4" cy="196.3" r="8.6"/><circle cx="1329.1" cy="203.5" r="8.6"/><circle cx="1309.5" cy="221.1" r="8.6"/><circle cx="1313.6" cy="229.3" r="8.6"/><circle cx="1391.1" cy="235.5" r="8.6"/><circle cx="1241.2" cy="258.2" r="8.6"/><circle cx="1276.1" cy="252.6" r="8.6"/><circle cx="1271.9" cy="263.8" r="8.6"/><circle cx="1238.4" cy="283.3" r="8.6"/><circle cx="1244.0" cy="295.9" r="8.6"/><circle cx="1238.4" cy="307.1" r="8.6"/><circle cx="1238.4" cy="318.3" r="8.6"/><circle cx="1278.9" cy="298.7" r="8.6"/><circle cx="1238.4" cy="332.3" r="8.6"/><circle cx="1305.5" cy="347.7" r="8.6"/><circle cx="1327.9" cy="256.8" r="8.6"/><circle cx="1232.8" cy="343.5" r="8.6"/><circle cx="1325.1" cy="362.6" r="8.6"/><circle cx="1238.4" cy="400.3" r="8.6"/><circle cx="1235.6" cy="424.1" r="8.6"/><circle cx="1232.8" cy="456.3" r="8.6"/><circle cx="1232.8" cy="461.4" r="8.6"/><circle cx="1274.7" cy="546.0" r="8.6"/><circle cx="1137.8" cy="263.0" r="8.6"/><circle cx="1128.0" cy="272.8" r="8.6"/><circle cx="1186.7" cy="279.7" r="8.6"/><circle cx="1195.1" cy="297.9" r="8.6"/><circle cx="1209.1" cy="270.0" r="8.6"/><circle cx="1216.0" cy="272.8" r="8.6"/><circle cx="1218.8" cy="282.5" r="8.6"/><circle cx="1228.6" cy="281.1" r="8.6"/></g>
<g class="d-green"><circle cx="1162.2" cy="322.7" r="8.6"/><circle cx="1184.9" cy="316.9" r="8.6"/><circle cx="1131.8" cy="484.7" r="8.6"/><circle cx="1294.6" cy="188.0" r="8.6"/><circle cx="1311.1" cy="179.7" r="8.6"/><circle cx="1342.1" cy="189.0" r="8.6"/><circle cx="1396.3" cy="182.8" r="8.6"/><circle cx="1216.9" cy="214.9" r="8.6"/><circle cx="1239.2" cy="215.9" r="8.6"/><circle cx="1294.0" cy="225.2" r="8.6"/><circle cx="1299.1" cy="231.4" r="8.6"/><circle cx="1288.8" cy="239.7" r="8.6"/><circle cx="1255.7" cy="239.7" r="8.6"/><circle cx="1340.5" cy="211.8" r="8.6"/><circle cx="1329.1" cy="221.1" r="8.6"/><circle cx="1343.6" cy="221.1" r="8.6"/><circle cx="1363.2" cy="214.9" r="8.6"/><circle cx="1359.1" cy="225.2" r="8.6"/><circle cx="1397.3" cy="203.5" r="8.6"/><circle cx="1406.6" cy="207.6" r="8.6"/><circle cx="1418.0" cy="221.1" r="8.6"/><circle cx="1253.8" cy="247.0" r="8.6"/><circle cx="1291.5" cy="242.8" r="8.6"/><circle cx="1340.5" cy="247.0" r="8.6"/><circle cx="1322.3" cy="255.4" r="8.6"/><circle cx="1302.7" cy="266.6" r="8.6"/><circle cx="1244.0" cy="272.2" r="8.6"/><circle cx="1281.7" cy="281.9" r="8.6"/><circle cx="1292.9" cy="287.5" r="8.6"/><circle cx="1301.3" cy="284.7" r="8.6"/><circle cx="1309.7" cy="291.7" r="8.6"/><circle cx="1375.4" cy="258.2" r="8.6"/><circle cx="1383.8" cy="265.2" r="8.6"/><circle cx="1364.2" cy="265.2" r="8.6"/><circle cx="1402.0" cy="265.2" r="8.6"/><circle cx="1414.6" cy="263.8" r="8.6"/><circle cx="1390.8" cy="273.6" r="8.6"/><circle cx="1442.5" cy="244.2" r="8.6"/><circle cx="1452.3" cy="270.8" r="8.6"/><circle cx="1326.5" cy="300.1" r="8.6"/><circle cx="1322.3" cy="308.5" r="8.6"/><circle cx="1344.7" cy="294.5" r="8.6"/><circle cx="1339.1" cy="307.1" r="8.6"/><circle cx="1360.0" cy="294.5" r="8.6"/><circle cx="1265.0" cy="304.3" r="8.6"/><circle cx="1269.1" cy="314.1" r="8.6"/><circle cx="1265.0" cy="323.9" r="8.6"/><circle cx="1255.2" cy="325.3" r="8.6"/><circle cx="1284.5" cy="316.9" r="8.6"/><circle cx="1273.3" cy="332.3" r="8.6"/><circle cx="1262.2" cy="340.7" r="8.6"/><circle cx="1258.0" cy="346.3" r="8.6"/><circle cx="1325.1" cy="336.5" r="8.6"/><circle cx="1354.4" cy="332.3" r="8.6"/><circle cx="1319.5" cy="343.5" r="8.6"/><circle cx="1422.9" cy="309.9" r="8.6"/><circle cx="1364.2" cy="287.5" r="8.6"/><circle cx="1468.5" cy="254.7" r="8.6"/><circle cx="1460.1" cy="275.0" r="8.6"/><circle cx="1291.5" cy="362.6" r="8.6"/><circle cx="1325.8" cy="350.0" r="8.6"/><circle cx="1344.0" cy="378.0" r="8.6"/><circle cx="1321.6" cy="398.2" r="8.6"/><circle cx="1274.7" cy="426.2" r="8.6"/><circle cx="1267.8" cy="446.5" r="8.6"/><circle cx="1348.8" cy="405.9" r="8.6"/><circle cx="1298.5" cy="457.7" r="8.6"/><circle cx="1374.0" cy="465.6" r="8.6"/><circle cx="1485.3" cy="473.3" r="8.6"/></g>
<g class="d-pink"><circle cx="1190.7" cy="416.1" r="8.6"/><circle cx="1223.1" cy="237.6" r="8.6"/><circle cx="1355.0" cy="235.5" r="8.6"/><circle cx="1544.9" cy="573.2" r="8.6"/><circle cx="1232.8" cy="266.6" r="8.6"/><circle cx="1313.9" cy="247.0" r="8.6"/><circle cx="1355.8" cy="248.4" r="8.6"/><circle cx="1396.4" cy="256.8" r="8.6"/><circle cx="1410.4" cy="270.8" r="8.6"/><circle cx="1369.8" cy="281.9" r="8.6"/><circle cx="1381.0" cy="286.1" r="8.6"/><circle cx="1389.4" cy="298.7" r="8.6"/><circle cx="1432.7" cy="286.1" r="8.6"/><circle cx="1442.5" cy="293.1" r="8.6"/><circle cx="1434.1" cy="302.9" r="8.6"/><circle cx="1404.8" cy="307.1" r="8.6"/><circle cx="1390.8" cy="315.5" r="8.6"/><circle cx="1381.0" cy="322.5" r="8.6"/><circle cx="1369.8" cy="319.7" r="8.6"/><circle cx="1350.2" cy="318.3" r="8.6"/><circle cx="1305.5" cy="325.3" r="8.6"/><circle cx="1318.1" cy="325.3" r="8.6"/><circle cx="1459.3" cy="298.7" r="8.6"/><circle cx="1439.7" cy="337.9" r="8.6"/><circle cx="1453.7" cy="340.7" r="8.6"/><circle cx="1428.5" cy="329.5" r="8.6"/><circle cx="1420.2" cy="321.1" r="8.6"/><circle cx="1442.5" cy="347.7" r="8.6"/><circle cx="1459.3" cy="323.9" r="8.6"/><circle cx="1259.4" cy="337.9" r="8.6"/><circle cx="1479.7" cy="281.9" r="8.6"/><circle cx="1503.5" cy="291.7" r="8.6"/><circle cx="1486.7" cy="300.1" r="8.6"/><circle cx="1532.1" cy="311.3" r="8.6"/><circle cx="1464.3" cy="340.7" r="8.6"/><circle cx="1258.7" cy="372.4" r="8.6"/><circle cx="1358.6" cy="375.2" r="8.6"/><circle cx="1341.9" cy="391.9" r="8.6"/><circle cx="1329.3" cy="410.1" r="8.6"/><circle cx="1353.0" cy="401.7" r="8.6"/><circle cx="1390.8" cy="359.8" r="8.6"/><circle cx="1395.0" cy="401.7" r="8.6"/><circle cx="1421.6" cy="410.1" r="8.6"/><circle cx="1448.1" cy="378.0" r="8.6"/><circle cx="1453.7" cy="387.8" r="8.6"/><circle cx="1445.3" cy="351.4" r="8.6"/><circle cx="1308.3" cy="439.5" r="8.6"/><circle cx="1432.7" cy="422.7" r="8.6"/><circle cx="1409.0" cy="456.3" r="8.6"/><circle cx="1362.8" cy="358.4" r="8.6"/><circle cx="1475.5" cy="352.8" r="8.6"/><circle cx="1465.7" cy="378.0" r="8.6"/><circle cx="1555.2" cy="368.2" r="8.6"/><circle cx="1553.1" cy="388.4" r="8.6"/><circle cx="1562.2" cy="404.5" r="8.6"/><circle cx="1521.6" cy="393.3" r="8.6"/><circle cx="1525.8" cy="408.7" r="8.6"/><circle cx="1530.0" cy="419.9" r="8.6"/><circle cx="1548.2" cy="419.9" r="8.6"/><circle cx="1555.2" cy="429.0" r="8.6"/><circle cx="1580.4" cy="440.9" r="8.6"/><circle cx="1507.7" cy="433.9" r="8.6"/><circle cx="1481.1" cy="436.7" r="8.6"/><circle cx="1478.3" cy="405.9" r="8.6"/><circle cx="1551.0" cy="453.5" r="8.6"/><circle cx="1511.9" cy="446.5" r="8.6"/><circle cx="1291.5" cy="499.8" r="8.6"/><circle cx="1397.8" cy="517.3" r="8.6"/><circle cx="1428.5" cy="467.0" r="8.6"/><circle cx="1523.0" cy="460.0" r="8.6"/><circle cx="1553.8" cy="462.8" r="8.6"/><circle cx="1477.6" cy="484.5" r="8.6"/><circle cx="1579.7" cy="487.3" r="8.6"/><circle cx="1527.2" cy="491.5" r="8.6"/><circle cx="1479.7" cy="531.3" r="8.6"/><circle cx="1545.4" cy="569.1" r="8.6"/><circle cx="1228.6" cy="265.8" r="8.6"/><circle cx="1422.2" cy="282.2" r="8.6"/><circle cx="1420.2" cy="300.8" r="8.6"/><circle cx="1436.7" cy="313.2" r="8.6"/><circle cx="1449.1" cy="307.0" r="8.6"/><circle cx="1455.3" cy="327.7" r="8.6"/><circle cx="1411.9" cy="317.3" r="8.6"/><circle cx="1461.5" cy="286.3" r="8.6"/><circle cx="1467.7" cy="360.7" r="8.6"/><circle cx="1436.7" cy="278.1" r="8.6"/></g>
<g class="d-yellow"><circle cx="1196.3" cy="354.1" r="8.6"/><circle cx="1466.4" cy="574.6" r="8.6"/><circle cx="1473.6" cy="583.9" r="8.6"/><circle cx="1492.2" cy="598.4" r="8.6"/><circle cx="1553.2" cy="600.5" r="8.6"/><circle cx="1558.4" cy="618.0" r="8.6"/><circle cx="1494.3" cy="641.8" r="8.6"/><circle cx="1409.5" cy="675.3" r="8.6"/><circle cx="1339.1" cy="279.1" r="8.6"/><circle cx="1354.4" cy="303.6" r="8.6"/><circle cx="1400.6" cy="291.0" r="8.6"/><circle cx="1411.8" cy="288.2" r="8.6"/><circle cx="1456.5" cy="308.5" r="8.6"/><circle cx="1337.7" cy="330.2" r="8.6"/><circle cx="1339.1" cy="344.2" r="8.6"/><circle cx="1404.8" cy="322.5" r="8.6"/><circle cx="1486.7" cy="292.4" r="8.6"/><circle cx="1465.7" cy="323.9" r="8.6"/><circle cx="1489.5" cy="337.9" r="8.6"/><circle cx="1298.5" cy="369.6" r="8.6"/><circle cx="1306.2" cy="391.9" r="8.6"/><circle cx="1336.3" cy="366.8" r="8.6"/><circle cx="1374.0" cy="408.7" r="8.6"/><circle cx="1395.0" cy="366.8" r="8.6"/><circle cx="1411.8" cy="369.6" r="8.6"/><circle cx="1425.7" cy="361.2" r="8.6"/><circle cx="1455.1" cy="364.0" r="8.6"/><circle cx="1459.3" cy="378.0" r="8.6"/><circle cx="1388.0" cy="419.9" r="8.6"/><circle cx="1404.8" cy="415.7" r="8.6"/><circle cx="1422.9" cy="417.1" r="8.6"/><circle cx="1397.8" cy="445.1" r="8.6"/><circle cx="1417.4" cy="432.5" r="8.6"/><circle cx="1445.3" cy="433.9" r="8.6"/><circle cx="1448.1" cy="450.7" r="8.6"/><circle cx="1364.2" cy="439.5" r="8.6"/><circle cx="1355.8" cy="445.1" r="8.6"/><circle cx="1432.7" cy="408.7" r="8.6"/><circle cx="1369.8" cy="352.8" r="8.6"/><circle cx="1302.7" cy="450.7" r="8.6"/><circle cx="1478.3" cy="368.2" r="8.6"/><circle cx="1492.3" cy="361.2" r="8.6"/><circle cx="1475.5" cy="383.6" r="8.6"/><circle cx="1489.5" cy="386.4" r="8.6"/><circle cx="1513.3" cy="382.9" r="8.6"/><circle cx="1537.7" cy="366.1" r="8.6"/><circle cx="1509.1" cy="400.3" r="8.6"/><circle cx="1496.5" cy="407.3" r="8.6"/><circle cx="1511.9" cy="417.1" r="8.6"/><circle cx="1478.3" cy="428.3" r="8.6"/><circle cx="1493.7" cy="439.5" r="8.6"/><circle cx="1482.5" cy="453.5" r="8.6"/><circle cx="1523.0" cy="450.7" r="8.6"/><circle cx="1464.3" cy="431.1" r="8.6"/><circle cx="1497.9" cy="456.3" r="8.6"/><circle cx="1253.8" cy="474.7" r="8.6"/><circle cx="1365.6" cy="478.2" r="8.6"/><circle cx="1364.2" cy="493.6" r="8.6"/><circle cx="1434.1" cy="478.2" r="8.6"/><circle cx="1418.8" cy="515.9" r="8.6"/><circle cx="1276.1" cy="518.7" r="8.6"/><circle cx="1364.2" cy="567.7" r="8.6"/><circle cx="1452.3" cy="555.1" r="8.6"/><circle cx="1439.7" cy="462.8" r="8.6"/><circle cx="1459.3" cy="479.6" r="8.6"/><circle cx="1434.1" cy="517.3" r="8.6"/><circle cx="1459.3" cy="506.1" r="8.6"/><circle cx="1465.7" cy="464.2" r="8.6"/><circle cx="1483.9" cy="460.0" r="8.6"/><circle cx="1497.9" cy="468.4" r="8.6"/><circle cx="1509.1" cy="468.4" r="8.6"/><circle cx="1530.7" cy="474.0" r="8.6"/><circle cx="1497.9" cy="485.2" r="8.6"/><circle cx="1523.0" cy="495.0" r="8.6"/><circle cx="1506.3" cy="500.5" r="8.6"/><circle cx="1490.9" cy="500.5" r="8.6"/><circle cx="1531.4" cy="513.1" r="8.6"/><circle cx="1462.9" cy="508.9" r="8.6"/><circle cx="1516.0" cy="521.5" r="8.6"/><circle cx="1492.3" cy="541.1" r="8.6"/><circle cx="1476.9" cy="546.7" r="8.6"/><circle cx="1514.7" cy="538.3" r="8.6"/><circle cx="1467.1" cy="569.1" r="8.6"/><circle cx="1457.4" cy="360.7" r="8.6"/><circle cx="1496.6" cy="373.1" r="8.6"/><circle cx="1484.2" cy="389.7" r="8.6"/><circle cx="1461.5" cy="389.7" r="8.6"/><circle cx="1449.1" cy="377.3" r="8.6"/><circle cx="1496.6" cy="420.7" r="8.6"/><circle cx="1473.9" cy="412.4" r="8.6"/><circle cx="1504.9" cy="441.3" r="8.6"/><circle cx="1478.0" cy="490.9" r="8.6"/><circle cx="1502.8" cy="511.6" r="8.6"/><circle cx="1484.2" cy="511.6" r="8.6"/><circle cx="1467.7" cy="451.7" r="8.6"/><circle cx="1457.4" cy="437.2" r="8.6"/><circle cx="1445.0" cy="482.7" r="8.6"/></g>
<g class="d-black"><circle cx="1225.2" cy="434.7" r="8.6"/><circle cx="1389.1" cy="177.1" r="8.6"/><circle cx="1376.7" cy="239.7" r="8.6"/><circle cx="1400.8" cy="237.6" r="8.6"/><circle cx="1356.8" cy="571.5" r="8.6"/><circle cx="1405.4" cy="586.4" r="8.6"/><circle cx="1441.6" cy="582.9" r="8.6"/><circle cx="1454.0" cy="582.9" r="8.6"/><circle cx="1484.0" cy="586.0" r="8.6"/><circle cx="1494.3" cy="580.8" r="8.6"/><circle cx="1434.3" cy="608.3" r="8.6"/><circle cx="1460.8" cy="638.3" r="8.6"/><circle cx="1509.8" cy="648.0" r="8.6"/><circle cx="1480.2" cy="667.6" r="8.6"/><circle cx="1543.9" cy="612.5" r="8.6"/><circle cx="1306.2" cy="255.4" r="8.6"/><circle cx="1350.9" cy="275.0" r="8.6"/><circle cx="1376.1" cy="275.0" r="8.6"/><circle cx="1429.9" cy="268.0" r="8.6"/><circle cx="1309.0" cy="308.5" r="8.6"/><circle cx="1374.7" cy="305.7" r="8.6"/><circle cx="1443.2" cy="321.1" r="8.6"/><circle cx="1372.6" cy="331.6" r="8.6"/><circle cx="1385.2" cy="337.9" r="8.6"/><circle cx="1393.6" cy="342.1" r="8.6"/><circle cx="1406.2" cy="332.3" r="8.6"/><circle cx="1364.2" cy="346.3" r="8.6"/><circle cx="1414.6" cy="349.1" r="8.6"/><circle cx="1350.2" cy="350.0" r="8.6"/><circle cx="1477.6" cy="329.5" r="8.6"/><circle cx="1468.5" cy="346.3" r="8.6"/><circle cx="1250.3" cy="359.1" r="8.6"/><circle cx="1284.5" cy="369.6" r="8.6"/><circle cx="1289.4" cy="390.5" r="8.6"/><circle cx="1271.9" cy="390.5" r="8.6"/><circle cx="1287.3" cy="411.5" r="8.6"/><circle cx="1299.2" cy="419.9" r="8.6"/><circle cx="1312.5" cy="376.6" r="8.6"/><circle cx="1322.3" cy="375.2" r="8.6"/><circle cx="1334.2" cy="373.1" r="8.6"/><circle cx="1350.2" cy="357.0" r="8.6"/><circle cx="1372.6" cy="368.2" r="8.6"/><circle cx="1374.0" cy="379.4" r="8.6"/><circle cx="1378.2" cy="389.1" r="8.6"/><circle cx="1374.0" cy="398.9" r="8.6"/><circle cx="1361.4" cy="403.8" r="8.6"/><circle cx="1332.1" cy="398.9" r="8.6"/><circle cx="1388.0" cy="407.3" r="8.6"/><circle cx="1401.3" cy="390.5" r="8.6"/><circle cx="1416.0" cy="387.8" r="8.6"/><circle cx="1422.9" cy="397.5" r="8.6"/><circle cx="1409.0" cy="407.3" r="8.6"/><circle cx="1413.9" cy="354.2" r="8.6"/><circle cx="1441.1" cy="363.3" r="8.6"/><circle cx="1440.4" cy="382.2" r="8.6"/><circle cx="1438.3" cy="390.5" r="8.6"/><circle cx="1448.1" cy="404.5" r="8.6"/><circle cx="1456.5" cy="401.7" r="8.6"/><circle cx="1445.3" cy="415.7" r="8.6"/><circle cx="1358.6" cy="424.1" r="8.6"/><circle cx="1376.8" cy="427.6" r="8.6"/><circle cx="1389.4" cy="431.1" r="8.6"/><circle cx="1408.3" cy="426.9" r="8.6"/><circle cx="1406.2" cy="439.5" r="8.6"/><circle cx="1431.3" cy="439.5" r="8.6"/><circle cx="1457.9" cy="440.9" r="8.6"/><circle cx="1339.8" cy="444.4" r="8.6"/><circle cx="1292.2" cy="447.9" r="8.6"/><circle cx="1316.7" cy="456.3" r="8.6"/><circle cx="1350.2" cy="457.7" r="8.6"/><circle cx="1381.0" cy="453.5" r="8.6"/><circle cx="1393.6" cy="457.7" r="8.6"/><circle cx="1417.4" cy="453.5" r="8.6"/><circle cx="1431.3" cy="453.5" r="8.6"/><circle cx="1383.8" cy="350.0" r="8.6"/><circle cx="1486.7" cy="417.8" r="8.6"/><circle cx="1467.1" cy="418.5" r="8.6"/><circle cx="1461.5" cy="403.1" r="8.6"/><circle cx="1523.0" cy="438.8" r="8.6"/><circle cx="1545.4" cy="408.7" r="8.6"/><circle cx="1465.7" cy="445.1" r="8.6"/><circle cx="1275.4" cy="485.9" r="8.6"/><circle cx="1302.0" cy="473.3" r="8.6"/><circle cx="1316.7" cy="468.4" r="8.6"/><circle cx="1332.1" cy="478.2" r="8.6"/><circle cx="1336.3" cy="488.0" r="8.6"/><circle cx="1351.6" cy="464.2" r="8.6"/><circle cx="1351.6" cy="472.6" r="8.6"/><circle cx="1374.0" cy="500.5" r="8.6"/><circle cx="1389.4" cy="478.2" r="8.6"/><circle cx="1399.2" cy="472.6" r="8.6"/><circle cx="1410.4" cy="475.4" r="8.6"/><circle cx="1393.6" cy="492.2" r="8.6"/><circle cx="1409.0" cy="489.4" r="8.6"/><circle cx="1418.8" cy="483.8" r="8.6"/><circle cx="1393.6" cy="504.7" r="8.6"/><circle cx="1413.2" cy="499.1" r="8.6"/><circle cx="1425.7" cy="501.9" r="8.6"/><circle cx="1429.9" cy="510.3" r="8.6"/><circle cx="1439.7" cy="504.7" r="8.6"/><circle cx="1448.1" cy="486.6" r="8.6"/><circle cx="1453.7" cy="467.7" r="8.6"/><circle cx="1452.3" cy="515.9" r="8.6"/><circle cx="1410.4" cy="515.9" r="8.6"/><circle cx="1406.2" cy="524.3" r="8.6"/><circle cx="1425.7" cy="528.5" r="8.6"/><circle cx="1444.6" cy="530.6" r="8.6"/><circle cx="1424.3" cy="538.3" r="8.6"/><circle cx="1422.9" cy="550.9" r="8.6"/><circle cx="1438.3" cy="563.5" r="8.6"/><circle cx="1432.7" cy="569.1" r="8.6"/><circle cx="1360.0" cy="523.6" r="8.6"/><circle cx="1392.9" cy="543.2" r="8.6"/><circle cx="1282.9" cy="555.8" r="8.6"/><circle cx="1381.0" cy="462.8" r="8.6"/><circle cx="1459.3" cy="493.6" r="8.6"/><circle cx="1465.0" cy="481.0" r="8.6"/><circle cx="1478.3" cy="499.8" r="8.6"/><circle cx="1513.3" cy="488.0" r="8.6"/><circle cx="1492.3" cy="527.8" r="8.6"/><circle cx="1511.2" cy="528.5" r="8.6"/><circle cx="1499.6" cy="557.9" r="8.6"/></g>
<ellipse class="el e-orange" cx="1084.7" cy="452.9" rx="177.7" ry="92.1" transform="rotate(-50.3 1084.7 452.9)"/>
<ellipse class="el e-grey" cx="1231.0" cy="311.7" rx="240.5" ry="176.9" transform="rotate(-62.8 1231.0 311.7)"/>
<ellipse class="el e-green" cx="1347.2" cy="295.4" rx="172.1" ry="150.5" transform="rotate(178.1 1347.2 295.4)"/>
<ellipse class="el e-pink" cx="1432.4" cy="375.5" rx="214.5" ry="143.0" transform="rotate(-131.1 1432.4 375.5)"/>
<ellipse class="el e-yellow" cx="1433.0" cy="440.1" rx="200.1" ry="147.5" transform="rotate(-119.0 1433.0 440.1)"/>
<ellipse class="el e-black" cx="1400.0" cy="447.9" rx="224.6" ry="139.5" transform="rotate(-110.5 1400.0 447.9)"/>
</g>
<rect x="919.8" y="3.6" width="719.8" height="49.6" fill="#d9d9d9" stroke="#505050" stroke-width="1.4"/>
<text class="ti" x="929.5" y="43.5" font-size="41.5" textLength="25.5" lengthAdjust="spacingAndGlyphs">B</text>
<rect x="919.8" y="53.2" width="719.8" height="651.0" fill="none" stroke="#505050" stroke-width="1.4"/>
<line class="ax" x1="1100.4" x2="1100.4" y1="704.2" y2="711.2"/><text class="tk" x="1100.4" y="730.0" font-size="18.2" text-anchor="middle">-10</text><line class="ax" x1="1322.6" x2="1322.6" y1="704.2" y2="711.2"/><text class="tk" x="1322.6" y="730.0" font-size="18.2" text-anchor="middle">0</text><line class="ax" x1="1544.8" x2="1544.8" y1="704.2" y2="711.2"/><text class="tk" x="1544.8" y="730.0" font-size="18.2" text-anchor="middle">10</text><line class="ax" x1="912.8" x2="919.8" y1="584.9" y2="584.9"/><text class="tk" x="908.0" y="591.5" font-size="18.2" text-anchor="end">-10</text><line class="ax" x1="912.8" x2="919.8" y1="389.1" y2="389.1"/><text class="tk" x="908.0" y="395.7" font-size="18.2" text-anchor="end">0</text><line class="ax" x1="912.8" x2="919.8" y1="193.3" y2="193.3"/><text class="tk" x="908.0" y="199.9" font-size="18.2" text-anchor="end">10</text>
<text class="ti" x="1279.6" y="758.2" font-size="22.4" text-anchor="middle" textLength="402.0" lengthAdjust="spacingAndGlyphs">Principal Component 1 (21% expl var)</text>
<text class="ti" x="868.8" y="377.8" font-size="22.4" text-anchor="middle" textLength="402.0" lengthAdjust="spacingAndGlyphs" transform="rotate(-90 868.8 377.8)">Principal Component 2 (13% expl var)</text>
</g>
</svg></body></html>
